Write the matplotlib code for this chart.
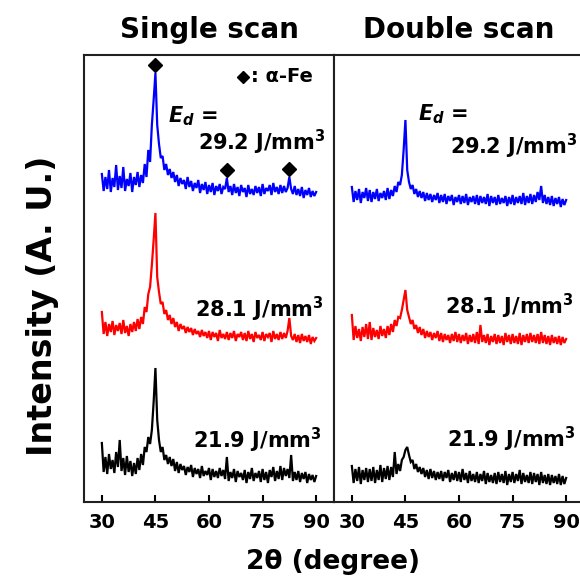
import numpy as np
import matplotlib
matplotlib.use("Agg")
import matplotlib.pyplot as plt

plt.rcParams["font.family"] = "DejaVu Sans"
plt.rcParams["font.weight"] = "bold"
plt.rcParams["mathtext.fontset"] = "custom"
plt.rcParams["mathtext.rm"] = "DejaVu Sans:bold"
plt.rcParams["mathtext.it"] = "DejaVu Sans:italic:bold"
plt.rcParams["mathtext.bf"] = "DejaVu Sans:bold"

# scan angles, 2-theta in 0.5 degree steps
two_theta = np.linspace(30, 90, 121)

# single scan patterns (arbitrary units, before stacking offset)
single_219 = [
    59, 30, 45, 28, 48, 33, 42, 29, 50, 35,
    62, 31, 44, 27, 46, 30, 41, 26, 39, 28,
    44, 32, 48, 37, 55, 50, 65, 58, 72, 100,
    134, 82, 62, 50, 55, 42, 47, 38, 45, 36,
    43, 31, 40, 29, 38, 32, 36, 27, 35, 30,
    37, 25, 34, 28, 33, 24, 36, 26, 31, 27,
    34, 22, 33, 25, 31, 24, 34, 26, 32, 23,
    45, 21, 30, 24, 33, 20, 31, 25, 29, 22,
    32, 19, 30, 23, 34, 21, 29, 24, 31, 20,
    33, 22, 30, 19, 32, 25, 35, 21, 31, 23,
    36, 22, 34, 26, 33, 24, 47, 21, 30, 22,
    31, 20, 29, 23, 30, 19, 28, 22, 27, 20,
    26]
single_281 = [
    50, 28, 40, 26, 38, 30, 41, 27, 37, 31,
    39, 28, 42, 29, 36, 26, 38, 30, 40, 31,
    43, 33, 45, 38, 55, 50, 68, 75, 97, 122,
    149, 85, 70, 58, 60, 48, 52, 42, 47, 38,
    44, 35, 40, 31, 38, 33, 36, 29, 35, 30,
    34, 27, 33, 28, 31, 25, 32, 26, 30, 24,
    31, 22, 30, 25, 29, 21, 32, 24, 28, 23,
    30, 22, 29, 24, 31, 21, 28, 25, 30, 22,
    29, 21, 31, 23, 28, 20, 30, 24, 27, 22,
    30, 21, 28, 25, 29, 20, 31, 23, 28, 22,
    30, 23, 29, 24, 31, 44, 26, 22, 28, 20,
    27, 19, 28, 21, 26, 20, 27, 18, 25, 21,
    24]
single_292 = [
    48, 31, 45, 33, 52, 30, 44, 35, 57, 32,
    46, 34, 55, 31, 43, 36, 49, 30, 45, 37,
    50, 35, 47, 39, 58, 45, 72, 60, 97, 122,
    149, 97, 78, 64, 66, 52, 58, 47, 53, 44,
    50, 40, 47, 36, 44, 38, 42, 33, 45, 35,
    41, 31, 39, 34, 42, 29, 38, 32, 40, 28,
    37, 30, 39, 27, 36, 31, 38, 28, 35, 33,
    44, 30, 36, 27, 38, 29, 35, 26, 37, 30,
    34, 25, 37, 28, 33, 27, 36, 29, 35, 26,
    38, 28, 34, 31, 37, 27, 39, 30, 35, 28,
    37, 29, 36, 30, 34, 45, 33, 28, 36, 27,
    33, 26, 35, 24, 32, 27, 34, 25, 31, 26,
    30]

# double scan patterns
double_219 = [
    36, 19, 33, 21, 35, 18, 32, 22, 34, 20,
    33, 21, 35, 19, 32, 22, 37, 20, 34, 23,
    36, 22, 35, 25, 50, 28, 38, 31, 42, 45,
    52, 55, 47, 40, 42, 33, 38, 30, 35, 28,
    34, 25, 32, 23, 33, 24, 31, 22, 30, 23,
    31, 21, 30, 24, 32, 20, 29, 22, 31, 21,
    30, 20, 33, 22, 29, 19, 31, 21, 28, 20,
    30, 19, 28, 21, 31, 18, 29, 20, 27, 19,
    29, 18, 30, 20, 28, 19, 31, 17, 28, 20,
    30, 19, 28, 21, 32, 18, 29, 20, 27, 19,
    30, 18, 29, 20, 28, 17, 30, 19, 27, 18,
    28, 17, 27, 19, 26, 18, 28, 17, 26, 18,
    24]
double_281 = [
    47, 22, 36, 24, 33, 21, 35, 25, 38, 23,
    40, 22, 34, 25, 32, 23, 36, 26, 33, 24,
    36, 27, 38, 30, 42, 36, 45, 44, 52, 62,
    72, 52, 45, 38, 42, 33, 37, 29, 35, 27,
    33, 24, 31, 25, 30, 22, 29, 24, 31, 21,
    29, 20, 28, 22, 27, 19, 28, 21, 30, 20,
    28, 19, 27, 21, 29, 18, 27, 20, 28, 19,
    30, 18, 37, 20, 27, 19, 28, 17, 26, 20,
    28, 18, 27, 19, 26, 17, 29, 20, 27, 18,
    28, 19, 26, 18, 29, 17, 27, 20, 28, 19,
    29, 20, 27, 19, 28, 18, 30, 19, 27, 18,
    26, 17, 27, 19, 25, 18, 26, 17, 25, 19,
    23]
double_292 = [
    35, 20, 31, 22, 33, 19, 30, 24, 34, 21,
    32, 20, 30, 23, 33, 21, 29, 24, 31, 22,
    34, 23, 32, 26, 36, 30, 40, 37, 47, 72,
    102, 52, 40, 33, 37, 28, 33, 25, 31, 24,
    30, 21, 29, 22, 28, 20, 27, 22, 29, 19,
    27, 20, 28, 18, 26, 21, 27, 17, 25, 20,
    27, 18, 26, 19, 28, 17, 25, 20, 26, 18,
    27, 17, 26, 19, 25, 18, 28, 16, 26, 19,
    25, 17, 27, 18, 24, 19, 26, 16, 25, 18,
    27, 17, 25, 19, 26, 18, 29, 17, 26, 19,
    28, 18, 27, 20, 30, 22, 36, 19, 27, 18,
    25, 17, 26, 16, 24, 18, 25, 15, 23, 17,
    22]

energy_labels = ["21.9", "28.1", "29.2"]
trace_colors = ["black", "red", "blue"]
stack_offsets = [0, 140, 280]

# alpha-Fe reflections marked on the single-scan 29.2 J/mm3 pattern
fe_peaks = [44.9, 65.0, 82.5]

panel_titles = ["Single scan", "Double scan"]
panel_data = [
    [single_219, single_281, single_292],
    [double_219, double_281, double_292],
]
# x start and baseline y for each energy label, per panel
label_pos = [
    [(55.5, 54), (56.1, 185), (56.9, 352)],
    [(56.6, 55), (56.1, 188), (57.6, 348)],
]
ed_pos = [(48.5, 380), (48.5, 382)]

W, H = 580, 579
fig = plt.figure(figsize=(W / 100, H / 100), dpi=100)
ax_l = fig.add_axes([84 / W, 77 / H, 250 / W, 447 / H])
ax_r = fig.add_axes([334 / W, 77 / H, 250 / W, 447 / H])

for k, ax in enumerate([ax_l, ax_r]):
    for series, color, offset in zip(panel_data[k], trace_colors, stack_offsets):
        ax.plot(two_theta, np.array(series) + offset, color=color, lw=1.6,
                solid_joinstyle="miter")

    for (x, y), e in zip(label_pos[k], energy_labels):
        ax.text(x, y, e + " J/mm$^3$", fontsize=15, fontweight="bold",
                ha="left", va="baseline")
    ax.text(ed_pos[k][0], ed_pos[k][1], "$E_d$ =", fontsize=15,
            ha="left", va="baseline")

    ax.set_xlim(25, 95)
    ax.set_ylim(0, 447)
    ax.set_xticks([30, 45, 60, 75, 90])
    ax.set_yticks([])
    ax.tick_params(axis="x", direction="in", length=5, width=1.5,
                   labelsize=14, pad=8, top=False)
    for lab in ax.get_xticklabels():
        lab.set_fontweight("bold")
    for sp in ax.spines.values():
        sp.set_linewidth(1.5)
        sp.set_color("#202020")
    ax.set_title(panel_titles[k], fontsize=20, fontweight="bold", pad=12)

# diamonds above the alpha-Fe peaks of the top single-scan trace
top = np.array(single_292) + stack_offsets[2]
for p in fe_peaks:
    near = np.abs(two_theta - p) <= 0.6
    ax_l.plot(p, top[near].max() + 8, marker="D", color="black", ms=7.5)
ax_l.plot(69.5, 425, marker="D", color="black", ms=6.5)
ax_l.text(71.8, 425, ": α-Fe", fontsize=14, fontweight="bold",
          ha="left", va="center")

fig.text(43 / W, 1 - 306 / H, "Intensity (A. U.)", rotation=90,
         fontsize=24, fontweight="bold", ha="center", va="center")
fig.text(333 / W, 1 - 562 / H, "2θ (degree)", fontsize=19,
         fontweight="bold", ha="center", va="center")

fig.savefig("out.png", dpi=100)
